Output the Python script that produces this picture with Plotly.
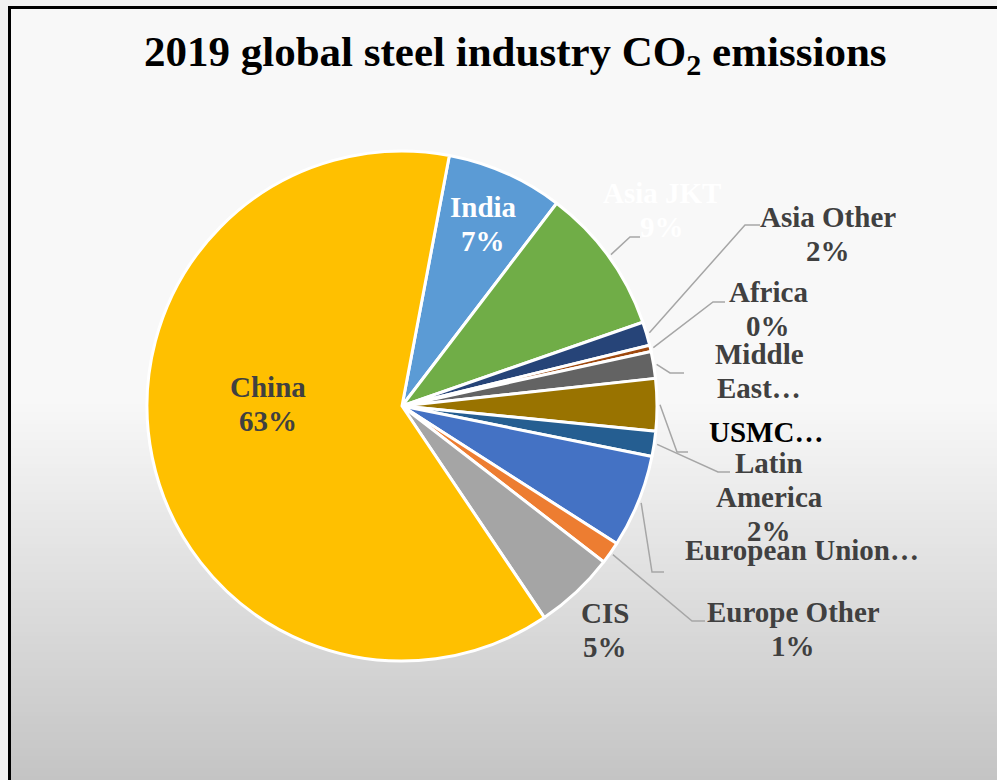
import math
import plotly.graph_objects as go

# ---------------- data ----------------
regions = ["India", "Asia JKT", "Asia Other", "Africa", "Middle East", "USMCA",
           "Latin America", "European Union", "Europe Other", "CIS", "China"]
shares = [7.4, 9.3, 1.5, 0.4, 1.7, 3.3, 1.6, 5.9, 1.4, 5.1, 62.4]
colors = ["#5B9BD5", "#70AD47", "#264478", "#9E480E", "#636363", "#997300",
          "#255E91", "#4472C4", "#ED7D31", "#A5A5A5", "#FFC000"]
# displayed label text (lines) as in the chart
label_lines = {
    "India": ["India", "7%"],
    "Asia JKT": ["Asia JKT", "9%"],
    "Asia Other": ["Asia Other", "2%"],
    "Africa": ["Africa", "0%"],
    "Middle East": ["Middle", "East…"],
    "USMCA": ["USMC…"],
    "Latin America": ["Latin", "America", "2%"],
    "European Union": ["European Union…"],
    "Europe Other": ["Europe Other", "1%"],
    "CIS": ["CIS", "5%"],
    "China": ["China", "63%"],
}

# ---------------- layout constants ----------------
W, H = 997, 780
CX, CY, R = 402, 406, 255
ROT = 10.7
FONT = "Liberation Serif, Times New Roman, serif"
LABEL_SIZE = 29
LINE_GAP = 34

label_color = {"India": "#FFFFFF", "Asia JKT": "#FFFFFF", "USMCA": "#000000"}
# label anchor (x center, y of first line center) in pixels
label_pos = {
    "China": (268, 387), "India": (483, 207), "Asia JKT": (662, 193),
    "Asia Other": (828, 217), "Africa": (768, 292), "Middle East": (759, 354),
    "USMCA": (766, 432), "Latin America": (769, 463), "European Union": (802, 550),
    "Europe Other": (793, 612), "CIS": (605, 613),
}
# leader line elbow and end points (pixels)
leaders = {
    "Asia JKT": ((630, 237), (640, 237)),
    "Asia Other": ((745, 225), (760, 225)),
    "Africa": ((713, 302), (725, 302)),
    "Middle East": ((670, 373), (684, 373)),
    "USMCA": ((677, 452), (688, 452)),
    "Latin America": ((718, 472), (730, 472)),
    "European Union": ((652, 572), (664, 572)),
    "Europe Other": ((692, 621), (705, 621)),
}


def px(x):
    return x / W


def py(y):
    return 1 - y / H


fig = go.Figure()
fig.add_trace(go.Pie(
    labels=regions, values=shares, sort=False, direction="clockwise",
    rotation=ROT, textinfo="none", hoverinfo="label+percent",
    marker=dict(colors=colors, line=dict(color="#FFFFFF", width=3)),
    domain=dict(x=[px(CX - R), px(CX + R)], y=[py(CY + R), py(CY - R)]),
    showlegend=False,
))

shapes = []
# chart area background
shapes.append(dict(type="rect", xref="paper", yref="paper", x0=px(9.5), x1=1,
                   y0=0, y1=py(7.5), fillcolor="#F8F8F8", line=dict(width=0),
                   layer="below"))
# gradient bottom part
top_g, bot_g = 400, 780
c_top, c_bot = 248, 196
step = 4
for y in range(top_g, bot_g, step):
    t = (y + step / 2 - top_g) / (bot_g - top_g)
    c = round(c_top + (c_bot - c_top) * t)
    col = f"rgb({c},{c},{c})"
    shapes.append(dict(type="rect", xref="paper", yref="paper", x0=px(9.5), x1=1,
                       y0=py(y + step + 0.5), y1=py(y), fillcolor=col,
                       line=dict(width=0), layer="below"))
# border lines
shapes.append(dict(type="line", xref="paper", yref="paper", x0=px(9.5), x1=px(9.5),
                   y0=0, y1=py(6), line=dict(color="#000000", width=3)))
shapes.append(dict(type="line", xref="paper", yref="paper", x0=px(8), x1=1,
                   y0=py(7.5), y1=py(7.5), line=dict(color="#000000", width=3)))

# leader lines computed from slice mid-angles
total = sum(shares)
cum = 0
mid_angle = {}
for name, v in zip(regions, shares):
    mid_angle[name] = ROT + 360 * (cum + v / 2) / total
    cum += v
for name, (elbow, end) in leaders.items():
    a = math.radians(mid_angle[name])
    sx = CX + (R + 3) * math.sin(a)
    sy = CY - (R + 3) * math.cos(a)
    path = (f"M {px(sx)},{py(sy)} L {px(elbow[0])},{py(elbow[1])} "
            f"L {px(end[0])},{py(end[1])}")
    shapes.append(dict(type="path", xref="paper", yref="paper", path=path,
                       line=dict(color="#A6A6A6", width=1.5)))

annotations = []
annotations.append(dict(
    text="<b>2019 global steel industry CO<sub>2</sub> emissions</b>",
    x=px(515), y=py(55), xref="paper", yref="paper", showarrow=False,
    xanchor="center", yanchor="middle",
    font=dict(family=FONT, size=43, color="#000000")))
for name in regions:
    x0, y0 = label_pos[name]
    col = label_color.get(name, "#404040")
    for i, line in enumerate(label_lines[name]):
        annotations.append(dict(
            text=f"<b>{line}</b>", x=px(x0), y=py(y0 + i * LINE_GAP),
            xref="paper", yref="paper", showarrow=False,
            xanchor="center", yanchor="middle",
            font=dict(family=FONT, size=LABEL_SIZE, color=col)))

fig.update_layout(
    width=W, height=H, margin=dict(l=0, r=0, t=0, b=0),
    paper_bgcolor="#F2F2F2", plot_bgcolor="rgba(0,0,0,0)",
    shapes=shapes, annotations=annotations,
)
fig.write_html("out.html")
